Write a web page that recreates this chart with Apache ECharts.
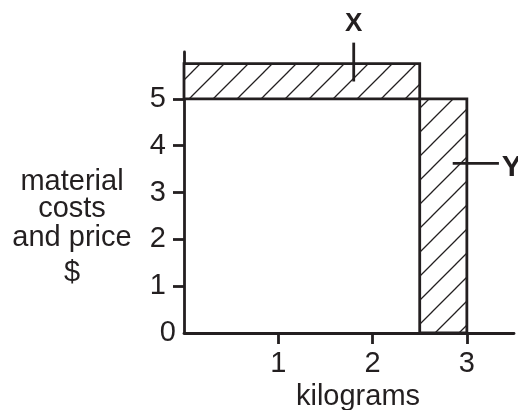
<!DOCTYPE html>
<html>
<head>
<meta charset="utf-8">
<script src="https://cdn.jsdelivr.net/npm/echarts@6/dist/echarts.min.js"></script>
<style>html,body{margin:0;padding:0;background:#fff}#c{width:518px;height:410px}</style>
</head>
<body>
<div id="c"></div>
<script>
// Data
const xTickValues = [1, 2, 3];
const yTickValues = [0, 1, 2, 3, 4, 5];
const rectNames = ['X', 'Y'];
const rectX0 = [0, 2.5];
const rectX1 = [2.5, 3];
const rectY0 = [5, 0];
const rectY1 = [5.75, 5];
// leader lines for labels
const leaderX0 = [1.8, 2.85];
const leaderY0 = [5.37, 3.62];
const leaderX1 = [1.8, 3.34];
const leaderY1 = [6.2, 3.62];
const labelX = [1.8, 3.37];
const labelY = [6.6, 3.53];
const xName = 'kilograms';
const yNameLines = ['material', 'costs', 'and price', '$'];

const INK = '#231f20';
const FONT = '"Liberation Sans", Arial, Helvetica, sans-serif';
const FS = 29;
const yNameCenters = [181.5, 208.5, 237.5, 272.5];

// hatch pattern
const S = 24;
const cv = document.createElement('canvas');
cv.width = S; cv.height = S;
const cx = cv.getContext('2d');
cx.fillStyle = '#fff'; cx.fillRect(0, 0, S, S);
cx.strokeStyle = INK; cx.lineWidth = 1.3;
cx.beginPath();
cx.moveTo(-2, S + 2); cx.lineTo(S + 2, -2);
cx.moveTo(-2, 2); cx.lineTo(2, -2);
cx.moveTo(S - 2, S + 2); cx.lineTo(S + 2, S - 2);
cx.stroke();
const hatch = { image: cv, repeat: 'repeat' };

const rectData = rectNames.map((n, i) => [rectX0[i], rectX1[i], rectY0[i], rectY1[i]]);
const leaderData = rectNames.map((n, i) => [leaderX0[i], leaderY0[i], leaderX1[i], leaderY1[i], labelX[i], labelY[i]]);

const chart = echarts.init(document.getElementById('c'), null, { renderer: 'canvas' });
chart.setOption({
  animation: false,
  backgroundColor: '#fff',
  grid: { left: 184, right: 4, top: 52, bottom: 77, outerBoundsMode: 'none' },
  xAxis: {
    type: 'value', min: 0, max: 3.5, interval: 1,
    splitLine: { show: false },
    axisLine: { show: true, lineStyle: { color: INK, width: 2.8 } },
    axisTick: { show: true, length: 11, lineStyle: { color: INK, width: 2.8 }, customValues: xTickValues },
    axisLabel: { customValues: xTickValues, margin: 16, color: INK, fontSize: FS, fontFamily: FONT },
    name: xName, nameLocation: 'middle', nameGap: 44,
    nameTextStyle: { color: INK, fontSize: FS, fontFamily: FONT, padding: [0, 0, 0, 18] }
  },
  yAxis: {
    type: 'value', min: 0, max: 6, interval: 1,
    splitLine: { show: false },
    axisLine: { show: true, lineStyle: { color: INK, width: 2.8 } },
    axisTick: { show: true, length: 11, lineStyle: { color: INK, width: 2.8 }, customValues: yTickValues.filter(v => v > 0) },
    axisLabel: {
      customValues: yTickValues, margin: 8, color: INK, fontSize: FS, fontFamily: FONT,
      formatter: v => v === 0 ? '{z|0}' : '{n|' + v + '}',
      rich: {
        z: { color: INK, fontSize: FS, fontFamily: FONT },
        n: { color: INK, fontSize: FS, fontFamily: FONT, padding: [0, 10, 0, 0] }
      }
    }
  },
  graphic: yNameLines.map((t, i) => ({
    type: 'text', x: 72, y: yNameCenters[i],
    style: { text: t, fill: INK, font: FS + 'px ' + FONT, align: 'center', verticalAlign: 'middle' }
  })),
  series: [{
    type: 'custom',
    data: rectData,
    clip: false,
    renderItem: (params, api) => {
      const p0 = api.coord([api.value(0), api.value(3)]);
      const p1 = api.coord([api.value(1), api.value(2)]);
      return {
        type: 'rect',
        shape: { x: p0[0], y: p0[1], width: p1[0] - p0[0], height: p1[1] - p0[1] },
        style: { fill: hatch, stroke: INK, lineWidth: 2.8 }
      };
    }
  }, {
    type: 'custom',
    data: leaderData,
    clip: false,
    z: 5,
    renderItem: (params, api) => {
      const a = api.coord([api.value(0), api.value(1)]);
      const b = api.coord([api.value(2), api.value(3)]);
      const t = api.coord([api.value(4), api.value(5)]);
      const name = rectNames[params.dataIndex];
      return {
        type: 'group',
        children: [{
          type: 'line', shape: { x1: a[0], y1: a[1], x2: b[0], y2: b[1] },
          style: { stroke: INK, lineWidth: 2.8 }
        }, {
          type: 'text', x: t[0], y: t[1],
          style: {
            text: name, fill: INK, font: 'bold ' + (name === 'X' ? 26 : 30) + 'px ' + FONT,
            align: name === 'X' ? 'center' : 'left', verticalAlign: 'middle'
          }
        }]
      };
    }
  }]
});
</script>
</body>
</html>
